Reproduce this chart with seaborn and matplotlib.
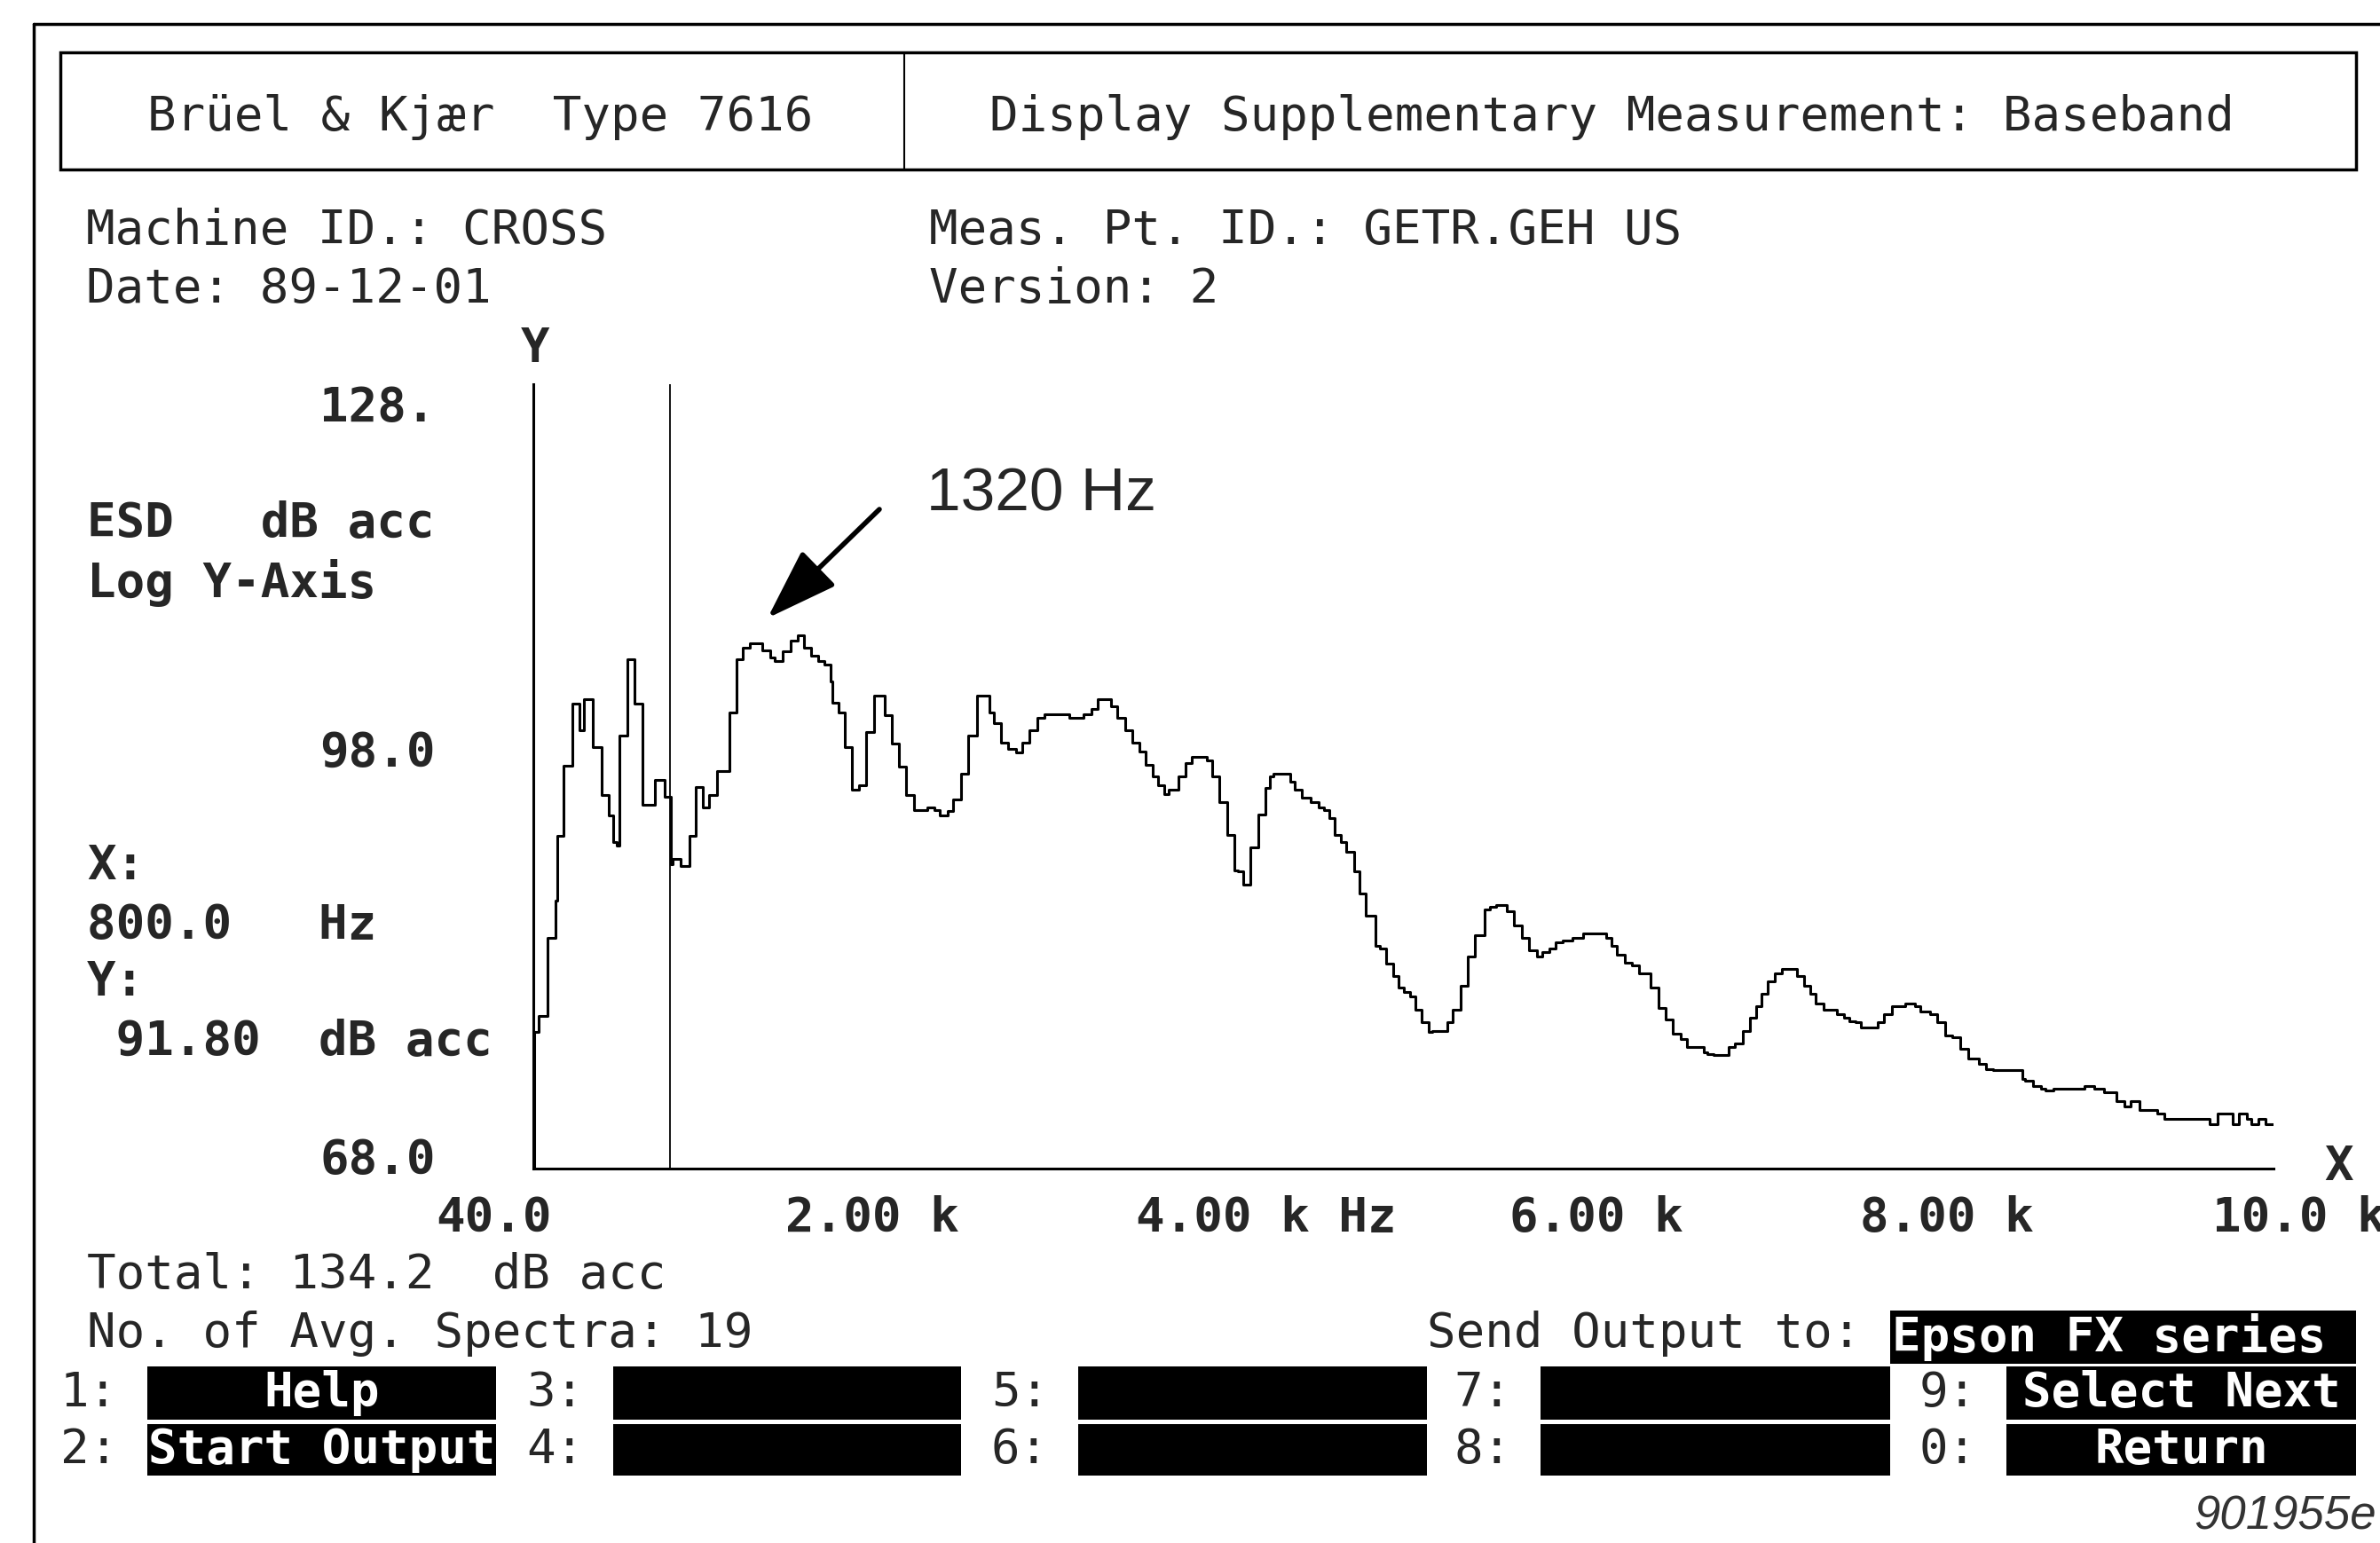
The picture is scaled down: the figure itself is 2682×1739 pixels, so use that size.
import numpy as np
import pandas as pd
import seaborn as sns
import matplotlib.pyplot as plt
from matplotlib.patches import Rectangle
from matplotlib.lines import Line2D
from matplotlib.ticker import NullLocator, NullFormatter

# spectrum (step start frequency, level)
freq_hz = [0, 5, 31, 81, 129, 140, 177, 228, 271, 298,
           346, 398, 442, 468, 490, 503, 552, 595, 639, 713,
           770, 805, 819, 862, 917, 954, 994, 1031, 1077, 1147,
           1191, 1230, 1267, 1344, 1388, 1414, 1464, 1508, 1552, 1589,
           1629, 1672, 1705, 1742, 1755, 1788, 1826, 1869, 1907, 1952,
           1996, 2062, 2099, 2143, 2187, 2230, 2307, 2351, 2384, 2427,
           2460, 2508, 2548, 2603, 2675, 2697, 2741, 2784, 2828, 2865,
           2909, 2953, 2997, 3143, 3226, 3270, 3310, 3386, 3423, 3467,
           3511, 3555, 3590, 3633, 3660, 3699, 3725, 3780, 3824, 3861,
           3949, 3977, 4021, 4065, 4108, 4130, 4159, 4202, 4251, 4290,
           4316, 4338, 4437, 4465, 4502, 4557, 4601, 4634, 4667, 4699,
           4732, 4765, 4809, 4842, 4881, 4934, 4962, 4999, 5039, 5071,
           5104, 5137, 5170, 5209, 5247, 5268, 5356, 5389, 5433, 5476,
           5520, 5575, 5608, 5641, 5706, 5750, 5794, 5838, 5881, 5914,
           5958, 5991, 6035, 6089, 6155, 6286, 6319, 6352, 6396, 6440,
           6483, 6549, 6593, 6637, 6680, 6724, 6764, 6862, 6884, 6916,
           7004, 7043, 7087, 7131, 7168, 7197, 7234, 7278, 7321, 7409,
           7446, 7486, 7518, 7562, 7639, 7683, 7715, 7748, 7781, 7880,
           7919, 7963, 8044, 8099, 8131, 8186, 8230, 8278, 8317, 8366,
           8409, 8471, 8514, 8558, 8729, 8744, 8788, 8838, 8865, 8908,
           9094, 9149, 9204, 9281, 9324, 9364, 9412, 9521, 9561, 9828,
           9872, 9959, 9999, 10042, 10069, 10112, 10152, 10200]

level_db = [68.0, 75.9, 76.9, 81.9, 84.4, 88.9, 94.1, 98.9, 96.8, 99.3,
            95.5, 91.9, 90.4, 88.5, 88.2, 96.4, 102.5, 98.9, 91.2, 93.0,
            91.8, 86.9, 87.3, 86.8, 88.9, 92.5, 91.0, 91.9, 93.7, 98.2,
            102.5, 103.5, 103.9, 103.3, 102.7, 102.4, 103.2, 104.1, 104.5, 103.5,
            102.8, 102.4, 102.1, 100.7, 99.0, 98.2, 95.5, 92.3, 92.6, 96.7,
            99.6, 98.0, 95.8, 94.0, 91.9, 90.8, 91.0, 90.8, 90.4, 90.7,
            91.6, 93.5, 96.4, 99.6, 98.2, 97.4, 95.9, 95.4, 95.1, 95.9,
            96.8, 97.8, 98.1, 97.8, 98.1, 98.5, 99.3, 98.7, 97.8, 96.8,
            95.9, 95.2, 94.2, 93.3, 92.6, 92.0, 92.3, 93.3, 94.3, 94.8,
            94.5, 93.3, 91.4, 89.0, 86.5, 86.4, 85.5, 88.1, 90.5, 92.4,
            93.3, 93.5, 92.9, 92.3, 91.7, 91.4, 91.0, 90.8, 90.2, 89.0,
            88.5, 87.8, 86.4, 84.9, 83.4, 81.4, 81.2, 80.2, 79.4, 78.7,
            78.4, 78.1, 77.3, 76.5, 75.9, 76.0, 76.5, 77.3, 78.8, 80.7,
            82.1, 83.8, 84.0, 84.1, 83.7, 82.7, 81.9, 81.1, 80.7, 81.0,
            81.2, 81.6, 81.7, 81.9, 82.2, 81.9, 81.4, 80.8, 80.3, 80.1,
            79.6, 78.7, 77.4, 76.7, 75.8, 75.5, 75.0, 74.7, 74.6, 74.5,
            75.0, 75.2, 76.0, 76.8, 77.5, 78.3, 79.1, 79.6, 79.9, 79.4,
            78.8, 78.3, 77.7, 77.3, 77.0, 76.8, 76.6, 76.5, 76.2, 76.5,
            77.0, 77.5, 77.7, 77.5, 77.2, 77.0, 76.5, 75.7, 75.6, 74.9,
            74.3, 74.0, 73.7, 73.6, 73.1, 73.0, 72.7, 72.5, 72.4, 72.5,
            72.7, 72.5, 72.3, 71.8, 71.5, 71.8, 71.3, 71.1, 70.8, 70.5,
            71.1, 70.5, 71.1, 70.8, 70.5, 70.8, 70.5, 70.5]

x_ticks = [0, 2000, 4000, 6000, 8000, 10000]
x_labels = ["40.0", "2.00 k", "4.00 k Hz", "6.00 k", "8.00 k", "10.0 k"]
y_ticks = [68, 98, 128]
y_labels = ["68.0", "98.0", "128."]
cursor_hz = 800
peak_hz = 1373
peak_db = 106.0

keys_row1 = ["1:", "3:", "5:", "7:", "9:"]
keys_row2 = ["2:", "4:", "6:", "8:", "0:"]
buttons_row1 = ["Help", "", "", "", "Select Next"]
buttons_row2 = ["Start Output", "", "", "", "Return"]

W, H = 2682, 1739
sns.set_style("white")
plt.rcParams['font.family'] = ['DejaVu Sans Mono', 'DejaVu Sans']
FS = 39

def fx(x):
    return x / W

def fy(y):
    return 1 - y / H

def txt(x, y, s, bold=False, **kw):
    fig.text(fx(x), fy(y), s, fontsize=kw.pop('fontsize', FS),
             fontweight='bold' if bold else 'normal',
             ha=kw.pop('ha', 'left'), va=kw.pop('va', 'center'), **kw)

def rect(x0, y0, x1, y1, **kw):
    fig.add_artist(Rectangle((fx(x0), fy(y1)), fx(x1) - fx(x0), fy(y0) - fy(y1),
                             transform=fig.transFigure, **kw))

def hline(x0, x1, y, lw=2.5):
    fig.add_artist(Line2D([fx(x0), fx(x1)], [fy(y), fy(y)], transform=fig.transFigure, color='black', lw=lw))

def vline(x, y0, y1, lw=2.5):
    fig.add_artist(Line2D([fx(x), fx(x)], [fy(y0), fy(y1)], transform=fig.transFigure, color='black', lw=lw))

fig = plt.figure(figsize=(W / 100, H / 100), dpi=100)
fig.patch.set_facecolor('white')

# spectrum axes
ax = fig.add_axes([fx(601), fy(1317), fx(2562) - fx(601), fy(433) - fy(1317)])
ax.patch.set_alpha(0)
df = pd.DataFrame({"freq": freq_hz, "level": level_db})
sns.lineplot(data=df, x="freq", y="level", drawstyle='steps-post', estimator=None,
             color='black', lw=2.2, ax=ax)
ax.axvline(cursor_hz, color='black', lw=1.3)
ax.set_yscale('log')
ax.set_xlim(0, 10200)
ax.set_ylim(68, 128)
ax.set_xticks(x_ticks)
ax.set_xticklabels([])
ax.set_yticks(y_ticks)
ax.set_yticklabels([])
ax.yaxis.set_minor_locator(NullLocator())
ax.yaxis.set_minor_formatter(NullFormatter())
ax.set_xlabel("")
ax.set_ylabel("")
for s in ['top', 'right']:
    ax.spines[s].set_visible(False)
for s in ['left', 'bottom']:
    ax.spines[s].set_linewidth(2.2)
    ax.spines[s].set_color('black')
ax.tick_params(axis='x', direction='out', length=24, width=1.8, color='black')
ax.tick_params(axis='y', direction='out', length=10, width=1.8, color='black')

# arrow to the 1320 Hz peak
ax.annotate("", xy=(peak_hz, peak_db), xycoords='data',
            xytext=(fx(991), fy(574)), textcoords='figure fraction',
            arrowprops=dict(arrowstyle='-|>,head_length=0.5,head_width=0.17',
                            mutation_scale=100, lw=4, color='black', shrinkA=0, shrinkB=0))
txt(1044, 557, "1320 Hz", family=['Liberation Sans', 'DejaVu Sans'], fontsize=50)

# frame and header
hline(38, W, 27)
vline(38, 27, H)
rect(68, 59, 2655, 191, facecolor='none', edgecolor='black', lw=2.5)
vline(1019, 59, 191, lw=1.5)
txt(166, 132, "Brüel & Kjær  Type 7616")
txt(1115, 132, "Display Supplementary Measurement: Baseband")
txt(97, 260, "Machine ID.: CROSS")
txt(97, 326, "Date: 89-12-01")
txt(1047, 260, "Meas. Pt. ID.: GETR.GEH US")
txt(1047, 326, "Version: 2")

# left column readouts
txt(603, 393, "Y", bold=True, ha='center')
txt(2636, 1315, "X", bold=True, ha='center')
txt(98, 590, "ESD   dB acc", bold=True)
txt(98, 657, "Log Y-Axis", bold=True)
txt(98, 976, "X:", bold=True)
txt(98, 1043, "800.0   Hz", bold=True)
txt(98, 1107, "Y:", bold=True)
txt(98, 1174, " 91.80  dB acc", bold=True)
for lab, yy in zip(y_labels, [1308, 849, 460]):
    txt(360, yy, lab, bold=True)
for lab, xx in zip(x_labels, [491, 885, 1280, 1701, 2096, 2493]):
    txt(xx, 1373, lab, bold=True)

# bottom status lines
txt(98, 1437, "Total: 134.2  dB acc")
txt(98, 1503, "No. of Avg. Spectra: 19")
txt(1608, 1503, "Send Output to:")
rect(2130, 1477, 2655, 1537, facecolor='black', edgecolor='none')
txt(2132, 1507, "Epson FX series", bold=True, color='white')

box_x = [(166, 559), (691, 1083), (1215, 1608), (1736, 2130), (2261, 2655)]
for row_keys, row_btns, (y0, y1) in [(keys_row1, buttons_row1, (1540, 1600)),
                                     (keys_row2, buttons_row2, (1605, 1663))]:
    for k, b, (x0, x1) in zip(row_keys, row_btns, box_x):
        txt(x0 - 98, (y0 + y1) / 2, k)
        rect(x0, y0, x1, y1, facecolor='black', edgecolor='none')
        if b:
            txt((x0 + x1) / 2, (y0 + y1) / 2, b, bold=True, color='white', ha='center')

txt(2472, 1710, "901955e", family=['Liberation Sans', 'DejaVu Sans'], fontsize=38,
    style='italic', color='#333333')

fig.savefig("out.png", dpi=100)
